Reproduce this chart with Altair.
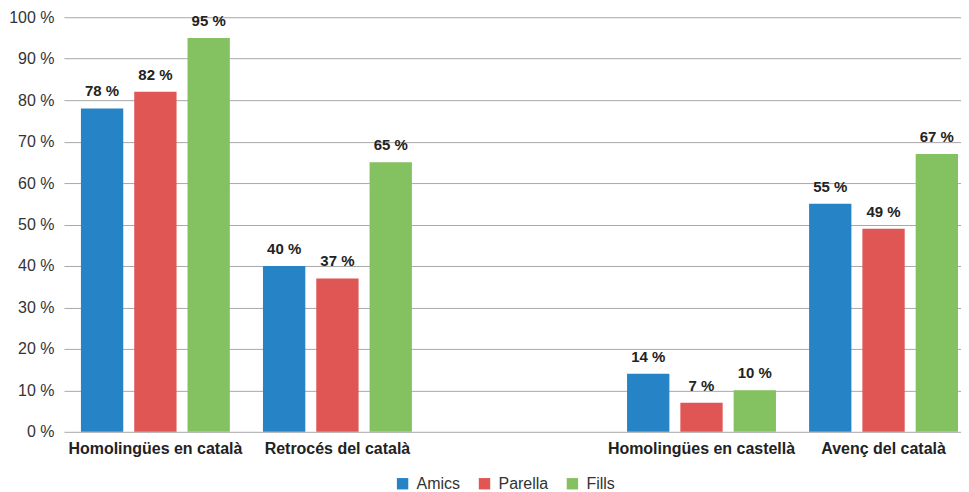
import altair as alt
import pandas as pd

categories = ["Homolingües en català", "Retrocés del català", " ", "Homolingües en castellà", "Avenç del català"]
series = ["Amics", "Parella", "Fills"]
colors = ["#2683C6", "#E05654", "#84C160"]

amics = [78, 40, None, 14, 55]
parella = [82, 37, None, 7, 49]
fills = [95, 65, None, 10, 67]

rows = []
for i, c in enumerate(categories):
    for s, vals in zip(series, [amics, parella, fills]):
        if vals[i] is not None:
            rows.append({"cat": c, "serie": s, "val": vals[i]})
df = pd.DataFrame(rows)

FONT = "Liberation Sans"

base = alt.Chart(df).encode(
    x=alt.X("cat:N", sort=categories,
            scale=alt.Scale(domain=categories, paddingInner=0.182, paddingOuter=0.0549, align=0.85),
            axis=alt.Axis(title=None, labelAngle=0, ticks=False, domain=False,
                          labelFont=FONT, labelFontSize=16, labelFontWeight="bold",
                          labelColor="#222222", labelPadding=9, labelLimit=0)),
    xOffset=alt.XOffset("serie:N", sort=series,
                        scale=alt.Scale(domain=series, paddingInner=0.206, paddingOuter=0)),
    y=alt.Y("val:Q", scale=alt.Scale(domain=[0, 100]),
            axis=alt.Axis(title=None, values=list(range(0, 101, 10)),
                          labelExpr="datum.value + ' %'", ticks=False, domain=False,
                          labelFont=FONT, labelFontSize=16, labelColor="#333333",
                          labelPadding=10, gridColor="#a8a8a8", gridWidth=1)),
)

bars = base.mark_bar().encode(
    color=alt.Color("serie:N", sort=series,
                    scale=alt.Scale(domain=series, range=colors),
                    legend=alt.Legend(title=None, orient="none", direction="horizontal",
                                      legendX=331, legendY=459,
                                      symbolType="square", symbolSize=130,
                                      symbolStrokeWidth=0, labelFont=FONT,
                                      labelFontSize=16, labelColor="#333333",
                                      columnPadding=16, labelOffset=6))
)

labels = base.mark_text(baseline="bottom", dy=-9, font=FONT, fontSize=15,
                        fontWeight="bold", color="#222222").encode(
    text=alt.Text("lbl:N")
).transform_calculate(lbl="datum.val + ' %'")

chart = alt.layer(bars, labels).properties(
    width=898, height=415,
    padding={"left": 0, "top": 1, "right": 0, "bottom": 0},
).configure_view(stroke=None)

chart.save("out.html", embed_options={"renderer": "svg", "actions": False})
